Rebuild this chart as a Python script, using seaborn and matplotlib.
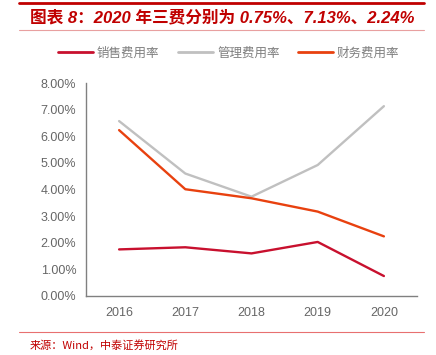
import numpy as np
import pandas as pd
import matplotlib
matplotlib.use('Agg')
import matplotlib.pyplot as plt
import seaborn as sns
from matplotlib.lines import Line2D

sns.set_style('white')
plt.rcParams['font.family'] = ['Liberation Sans', 'Noto Sans CJK SC', 'DejaVu Sans']
plt.rcParams['axes.unicode_minus'] = False

# 数据
years = ['2016', '2017', '2018', '2019', '2020']
sales_rate = [1.75, 1.83, 1.60, 2.03, 0.75]     # 销售费用率
admin_rate = [6.57, 4.60, 3.73, 4.92, 7.13]     # 管理费用率
finance_rate = [6.23, 4.01, 3.67, 3.17, 2.24]   # 财务费用率
series_names = ['销售费用率', '管理费用率', '财务费用率']
colors = ['#C8102E', '#C0C0C0', '#E8410F']

df = pd.DataFrame({
    'idx': list(range(len(years))) * 3,
    'value': sales_rate + admin_rate + finance_rate,
    'series': sum([[n] * len(years) for n in series_names], []),
})

fig = plt.figure(figsize=(4.36, 3.55), dpi=100)
ax = fig.add_axes([86 / 436, 1 - 296 / 355, (417 - 86) / 436, (296 - 83) / 355])

sns.lineplot(data=df, x='idx', y='value', hue='series', hue_order=series_names,
             palette=dict(zip(series_names, colors)), linewidth=1.7, ax=ax, legend=False)

ax.set_xlim(-0.5, len(years) - 0.5)
ax.set_ylim(0, 8)
ax.set_yticks(np.arange(0, 9, 1))
ax.set_yticklabels([f'{v:.2f}%' for v in np.arange(0, 9, 1)])
ax.set_xticks(range(len(years)))
ax.set_xticklabels(years)
ax.set_xticks(np.arange(-0.5, len(years)), minor=True)
ax.tick_params(axis='x', which='major', length=0, pad=8, labelsize=9, labelcolor='#666666')
ax.tick_params(axis='x', which='minor', length=4, width=1, color='#808080', direction='out')
ax.tick_params(axis='y', length=4, width=1, color='#808080', direction='out',
               labelsize=9, labelcolor='#666666', pad=3)
ax.set_xlabel('')
ax.set_ylabel('')
for side in ['top', 'right']:
    ax.spines[side].set_visible(False)
for side in ['left', 'bottom']:
    ax.spines[side].set_color('#808080')
    ax.spines[side].set_linewidth(1)

# 图例
handles = [Line2D([0], [0], color=c, lw=2) for c in colors]
leg = fig.legend(handles, series_names, loc='center', bbox_to_anchor=(0.525, 1 - 53 / 355),
                 ncol=3, frameon=False, handlelength=2.8, handletextpad=0.3,
                 columnspacing=1.5, prop={'family': ['Noto Sans CJK SC'], 'size': 9})
for t in leg.get_texts():
    t.set_color('#7F7F7F')

# 标题和分隔线
fig.add_artist(Line2D([19 / 436, 424 / 436], [1 - 3 / 355] * 2, color='#C00000', lw=2))
fig.add_artist(Line2D([19 / 436, 424 / 436], [1 - 30 / 355] * 2, color='#E8A0A0', lw=0.8))
fig.text(30 / 436, 1 - 18 / 355, '图表 8：2020 年三费分别为 0.75%、7.13%、2.24%',
         color='#C00000', fontsize=12, fontweight='bold', fontstyle='italic',
         va='center', ha='left')
fig.add_artist(Line2D([19 / 436, 424 / 436], [1 - 332 / 355] * 2, color='#E87070', lw=0.8))
fig.text(30 / 436, 1 - 345 / 355, '来源：Wind，中泰证券研究所', color='#C00000',
         fontsize=8, va='center', ha='left',
         family=['Noto Sans CJK SC', 'DejaVu Sans'])

fig.savefig('out.png', dpi=100)
